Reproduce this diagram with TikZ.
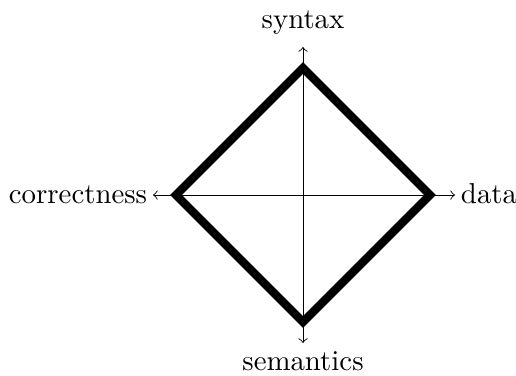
\documentclass[tikz,border=0pt]{standalone}
\begin{document}
\begin{tikzpicture}[x=0.347pt,y=-0.347pt,
  axis/.style={line width=0.3pt,<->},
  rim/.style={line width=2.9pt,line join=miter},
  lbl/.style={anchor=base,inner sep=0pt,font=\fontsize{10}{12}\selectfont}]
\useasboundingbox (0,0) rectangle (516,375);
\coordinate (T) at (303,47);
\coordinate (B) at (303,343);
\coordinate (L) at (153,195);
\coordinate (R) at (455,195);
\coordinate (dT) at (303,68);
\coordinate (dB) at (303,322);
\coordinate (dL) at (176,195);
\coordinate (dR) at (430,195);
\draw[rim] (dT) -- (dR) -- (dB) -- (dL) -- cycle;
\draw[axis] (B) -- (T);
\draw[axis] (L) -- (R);
\node[lbl] (syn) at (303,28) {syntax};
\node[lbl] (sem) at (303,370) {semantics};
\node[lbl] (cor) at (78,203) {correctness};
\node[lbl] (dat) at (489,203) {data};
\end{tikzpicture}
\end{document}
